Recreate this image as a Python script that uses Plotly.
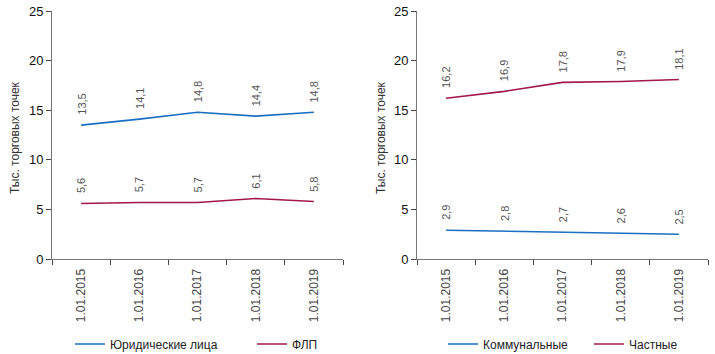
import plotly.graph_objects as go

dates = ["1.01.2015", "1.01.2016", "1.01.2017", "1.01.2018", "1.01.2019"]
legal = [13.5, 14.1, 14.8, 14.4, 14.8]
flp = [5.6, 5.7, 5.7, 6.1, 5.8]
communal = [2.9, 2.8, 2.7, 2.6, 2.5]
private = [16.2, 16.9, 17.8, 17.9, 18.1]
y_title = "Тыс. торговых точек"

BLUE = "#1b6fc2"
RED = "#a3184c"
FONT = "Liberation Sans, Arial, sans-serif"

fig = go.Figure()
fig.add_trace(go.Scatter(x=dates, y=legal, mode="lines", name="Юридические лица",
                         line=dict(color=BLUE, width=1.6), xaxis="x", yaxis="y", legend="legend"))
fig.add_trace(go.Scatter(x=dates, y=flp, mode="lines", name="ФЛП",
                         line=dict(color=RED, width=1.6), xaxis="x", yaxis="y", legend="legend"))
fig.add_trace(go.Scatter(x=dates, y=communal, mode="lines", name="Коммунальные",
                         line=dict(color=BLUE, width=1.6), xaxis="x2", yaxis="y2", legend="legend2"))
fig.add_trace(go.Scatter(x=dates, y=private, mode="lines", name="Частные",
                         line=dict(color=RED, width=1.6), xaxis="x2", yaxis="y2", legend="legend2"))

def fmt(v):
    return f"{v:.1f}".replace(".", ",")

annotations = []
for xa, ya, series in (("x", "y", [legal, flp]), ("x2", "y2", [communal, private])):
    for s in series:
        for d, v in zip(dates, s):
            annotations.append(dict(x=d, y=v, xref=xa, yref=ya, text=fmt(v), showarrow=False,
                                    textangle=-90, yanchor="bottom", xanchor="center", yshift=8,
                                    font=dict(size=11, color="#555555", family=FONT)))

for xp in (15, 381):
    annotations.append(dict(x=xp / 715, y=1 - 138 / 354, xref="paper", yref="paper", text=y_title,
                            showarrow=False, textangle=-90, xanchor="center", yanchor="middle",
                            font=dict(size=12, color="#333333", family=FONT)))

ydom = [1 - 259 / 354, 1 - 11 / 354]
xcommon = dict(type="category", tickson="boundaries", ticks="outside", ticklen=5, tickcolor="#444",
               range=[-0.5, len(dates) - 0.5], ticklabelstandoff=4,
               showline=True, linecolor="#777", linewidth=1, showgrid=False, tickangle=-90,
               tickfont=dict(size=12, color="#444", family=FONT), fixedrange=True, automargin=False)
ycommon = dict(range=[0, 25], tickvals=[0, 5, 10, 15, 20, 25], ticks="outside", ticklen=5,
               tickcolor="#444", showline=True, linecolor="#777", linewidth=1, showgrid=False,
               zeroline=False, tickfont=dict(size=13, color="#111", family=FONT), fixedrange=True,
               automargin=False)

fig.update_layout(
    width=715, height=354, margin=dict(l=0, r=0, t=0, b=0, autoexpand=False),
    paper_bgcolor="white", plot_bgcolor="white",
    font=dict(family=FONT),
    xaxis=dict(domain=[52 / 715, 343 / 715], anchor="y", **xcommon),
    yaxis=dict(domain=ydom, anchor="x", **ycommon),
    xaxis2=dict(domain=[417 / 715, 708 / 715], anchor="y2", **xcommon),
    yaxis2=dict(domain=ydom, anchor="x2", **ycommon),
    legend=dict(orientation="h", x=70 / 715, y=1 - 344 / 354, xanchor="left", yanchor="middle",
                entrywidth=137, entrywidthmode="pixels", font=dict(size=12, color="#222", family=FONT),
                bgcolor="rgba(0,0,0,0)"),
    legend2=dict(orientation="h", x=443 / 715, y=1 - 344 / 354, xanchor="left", yanchor="middle",
                 entrywidth=101, entrywidthmode="pixels", font=dict(size=12, color="#222", family=FONT),
                 bgcolor="rgba(0,0,0,0)"),
    annotations=annotations,
    showlegend=True,
)

fig.write_html("out.html")
